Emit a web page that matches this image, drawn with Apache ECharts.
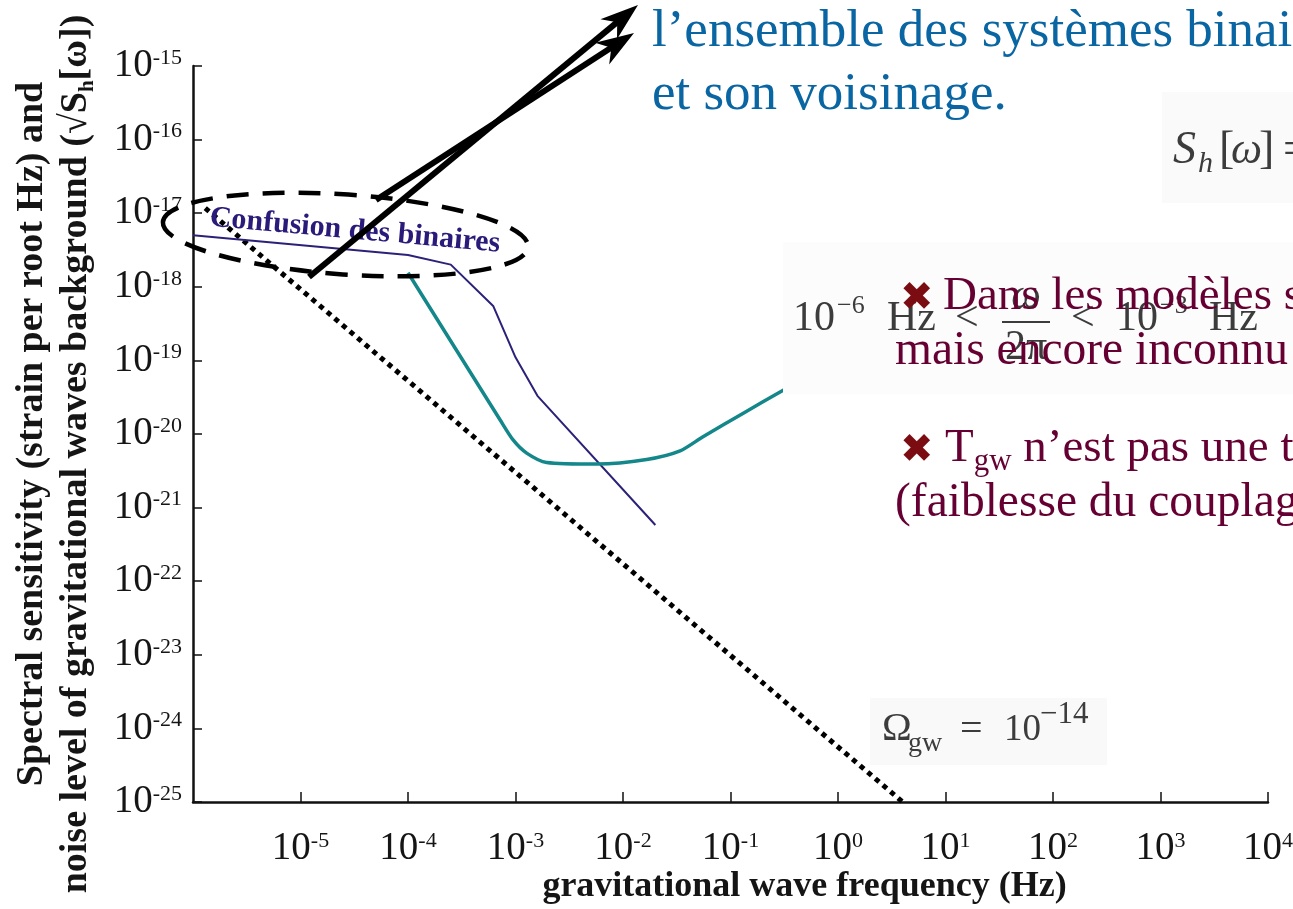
<!DOCTYPE html>
<html>
<head>
<meta charset="utf-8">
<script src="https://cdn.jsdelivr.net/npm/echarts@6/dist/echarts.min.js"></script>
<style>
html,body{margin:0;padding:0;background:#fff;}
#c{width:1293px;height:909px;}
</style>
</head>
<body>
<div id="c"></div>
<script>
// ---------------- data ----------------
// binary confusion noise curve (navy)
const confusionFreq = [1e-6, 1.0e-4, 2.5e-4, 6.2e-4, 1.0e-3, 1.6e-3, 2.0e-2];
const confusionAmp  = [5.0e-18, 2.7e-18, 2.0e-18, 5.5e-19, 1.1e-19, 3.3e-20, 5.8e-22];
// detector sensitivity curve (teal)
const sensFreq = [1.0e-4, 7.2e-4, 9.5e-4, 1.27e-3, 1.95e-3, 5.7e-3, 1.66e-2, 3.4e-2, 5.5e-2, 0.134, 0.315];
const sensAmp  = [1.55e-18, 1.55e-20, 8.3e-21, 5.5e-21, 4.1e-21, 3.9e-21, 4.5e-21, 5.9e-21, 9.1e-21, 1.95e-20, 4.0e-20];
// stochastic background level Omega_gw = 1e-14 (dotted)
const omegaFreq = [1.3e-6, 4.0];
const omegaAmp  = [1.17e-17, 1e-25];
// axes: decades (log10 exponents), one tick per decade
const xDecadeMin = -6, xDecadeMax = 4;
const yDecadeMin = -25, yDecadeMax = -15;
// texts
const yTitle1 = 'Spectral sensitivity (strain per root Hz) and';
const yTitle2 = 'noise level of gravitational waves background (√S{h|h}[ω]){sp| }';
const xTitle = 'gravitational wave frequency (Hz)';
const bubbleText = 'Confusion des binaires';
const blueLines = ['l’ensemble des systèmes binai', 'et son voisinage.'];
const bullet1 = ['Dans les modèles s', 'mais encore inconnu'];
const bullet2b = '(faiblesse du couplag';

// ---------------- helpers ----------------
const SERIF = '"Liberation Serif", "Times New Roman", serif';
function powLabel(e) {
  return '{b|10}{s|' + Math.round(e) + '}';
}
const tickRich = {
  b: {fontSize: 39, fontFamily: SERIF, color: '#151515', lineHeight: 38},
  s: {fontSize: 22, fontFamily: SERIF, color: '#151515', lineHeight: 14, verticalAlign: 'top'}
};
// log-log plot: values go through log10 onto decade axes
function pair(xs, ys) { return xs.map((x, i) => [Math.log10(x), Math.log10(ys[i])]); }

function arrow(x0, y0, x1, y1) {
  const dx = x1 - x0, dy = y1 - y0, L = Math.hypot(dx, dy);
  const ux = dx / L, uy = dy / L, px = -uy, py = ux;
  const hl = 38, hw = 13, notch = 11;
  const bx = x1 - ux * hl, by = y1 - uy * hl;
  const nx = x1 - ux * (hl - notch), ny = y1 - uy * (hl - notch);
  return [
    {type: 'line', z: 60, shape: {x1: x0, y1: y0, x2: nx + ux * 2, y2: ny + uy * 2},
     style: {stroke: '#000', lineWidth: 6}},
    {type: 'polygon', z: 60, shape: {points: [[x1, y1], [bx + px * hw, by + py * hw], [nx, ny], [bx - px * hw, by - py * hw]]},
     style: {fill: '#000'}}
  ];
}
function txt(text, x, y, opt) {
  return Object.assign({type: 'text', z: 80, x: x, y: y,
    style: Object.assign({text: text, fill: '#3a3a3a', fontFamily: SERIF, fontSize: 42,
      align: 'left', verticalAlign: 'middle'}, opt || {})});
}

// ---------------- annotations ----------------
const BLUE = '#0a66a3';
const MAROON = '#660033';
const XRED = '#7b0d12';
const FORM = '#3c3c3c';
const graphics = [];
// faint boxes behind the pasted formulas
graphics.push({type: 'rect', z: 5, shape: {x: 1162, y: 92, width: 131, height: 111}, style: {fill: '#fafafa'}});
graphics.push({type: 'rect', z: 5, shape: {x: 783, y: 242, width: 510, height: 152}, style: {fill: '#fcfcfc'}});
graphics.push({type: 'rect', z: 5, shape: {x: 870, y: 698, width: 237, height: 67}, style: {fill: '#f9f9f9'}});

// dashed ellipse
graphics.push({type: 'ellipse', z: 50, x: 345.5, y: 234.5, rotation: -0.068,
  shape: {cx: 0, cy: 0, rx: 183, ry: 40},
  style: {fill: 'none', stroke: '#000', lineWidth: 4.5, lineDash: [22, 14]}});
// bubble text
graphics.push({type: 'text', z: 55, x: 355, y: 231, rotation: -0.09,
  style: {text: bubbleText, fill: '#2a1b7a', fontFamily: SERIF, fontWeight: 'bold', fontSize: 30,
    align: 'center', verticalAlign: 'middle'}});
// arrows
arrow(309, 277, 638, 5).forEach(g => graphics.push(g));
arrow(376, 200, 634, 33).forEach(g => graphics.push(g));

// blue slide text
graphics.push(txt(blueLines[0], 652, 32, {fill: BLUE, fontSize: 53}));
graphics.push(txt(blueLines[1], 652, 95, {fill: BLUE, fontSize: 53}));

// S_h[w] =
graphics.push(txt('S', 1173, 151, {fill: FORM, fontSize: 46, fontStyle: 'italic'}));
graphics.push(txt('h', 1198, 164, {fill: FORM, fontSize: 30, fontStyle: 'italic'}));
graphics.push(txt('[', 1219, 151, {fill: FORM, fontSize: 46}));
graphics.push(txt('ω', 1231, 151, {fill: FORM, fontSize: 44, fontStyle: 'italic'}));
graphics.push(txt(']', 1259, 151, {fill: FORM, fontSize: 46}));
graphics.push(txt('=', 1283, 151, {fill: FORM, fontSize: 46}));

// 1e-6 Hz < w/2pi < 1e-3 Hz
graphics.push(txt('10', 793, 319, {fill: FORM}));
graphics.push(txt('−6', 837, 306, {fill: FORM, fontSize: 26}));
graphics.push(txt('Hz', 887, 319, {fill: FORM}));
graphics.push(txt('<', 955, 319, {fill: FORM}));
graphics.push({type: 'line', z: 80, shape: {x1: 1002, y1: 322, x2: 1050, y2: 322}, style: {stroke: FORM, lineWidth: 2}});
graphics.push(txt('ω', 1026, 297, {fill: FORM, fontStyle: 'italic', align: 'center'}));
graphics.push(txt('2π', 1026, 348, {fill: FORM, align: 'center'}));
graphics.push(txt('<', 1071, 319, {fill: FORM}));
graphics.push(txt('10', 1116, 319, {fill: FORM}));
graphics.push(txt('−3', 1160, 306, {fill: FORM, fontSize: 26}));
graphics.push(txt('Hz', 1209, 319, {fill: FORM}));

// Omega_gw = 1e-14
graphics.push(txt('Ω', 882, 729, {fill: FORM, fontSize: 40}));
graphics.push(txt('gw', 908, 744, {fill: FORM, fontSize: 28}));
graphics.push(txt('=', 960, 730, {fill: FORM, fontSize: 40}));
graphics.push(txt('10', 1004, 730, {fill: FORM, fontSize: 37}));
graphics.push(txt('−14', 1040, 715, {fill: FORM, fontSize: 31}));

// maroon bullets
graphics.push(txt('✖', 900, 300, {fill: XRED, fontFamily: '"DejaVu Sans"', fontSize: 40}));
graphics.push(txt(bullet1[0], 943, 297, {fill: MAROON, fontSize: 47}));
graphics.push(txt(bullet1[1], 895, 352, {fill: MAROON, fontSize: 47.5}));
graphics.push(txt('✖', 900, 452, {fill: XRED, fontFamily: '"DejaVu Sans"', fontSize: 40}));
graphics.push(txt('{m|T}{sub|gw}{m| n’est pas une t}', 945, 449, {fill: MAROON, fontSize: 47,
  rich: {m: {fontSize: 47, fontFamily: SERIF, fill: MAROON, lineHeight: 56},
         sub: {fontSize: 31, fontFamily: SERIF, fill: MAROON, lineHeight: 15, verticalAlign: 'bottom'}}}));
graphics.push(txt(bullet2b, 895, 504, {fill: MAROON, fontSize: 47.5}));

// ---------------- chart ----------------
const chart = echarts.init(document.getElementById('c'), null, {renderer: 'canvas'});
const option = {
  animation: false,
  backgroundColor: '#ffffff',
  grid: {left: 193, right: 25, top: 66, bottom: 107, containLabel: false, outerBoundsMode: 'none'},
  xAxis: {
    type: 'value', min: xDecadeMin, max: xDecadeMax, interval: 1,
    name: xTitle, nameLocation: 'middle', nameGap: 67, nameMoveOverlap: false,
    nameTextStyle: {fontFamily: SERIF, fontWeight: 'bold', fontSize: 36, color: '#151515', padding: [0, 0, 0, 148]},
    axisLine: {show: true, onZero: false, lineStyle: {color: '#111', width: 2.5}},
    axisTick: {show: true, inside: true, length: 10, lineStyle: {color: '#111', width: 1.5}},
    minorTick: {show: false},
    splitLine: {show: false},
    axisLabel: {show: true, margin: 28, showMinLabel: false, showMaxLabel: true, hideOverlap: false,
      formatter: powLabel, rich: tickRich}
  },
  yAxis: {
    type: 'value', min: yDecadeMin, max: yDecadeMax, interval: 1,
    name: yTitle1 + '\n' + yTitle2, nameLocation: 'middle', nameRotate: 90, nameGap: 95, nameMoveOverlap: false,
    nameTextStyle: {fontFamily: SERIF, fontWeight: 'bold', fontSize: 38, color: '#151515', lineHeight: 44,
      rich: {h: {fontFamily: SERIF, fontWeight: 'bold', fontSize: 21, color: '#151515', lineHeight: 22, verticalAlign: 'bottom'},
             sp: {fontSize: 38, width: 40, lineHeight: 44}}},
    axisLine: {show: true, onZero: false, lineStyle: {color: '#111', width: 2.5}},
    axisTick: {show: true, inside: true, length: 9, lineStyle: {color: '#111', width: 1.5}},
    minorTick: {show: false},
    splitLine: {show: false},
    axisLabel: {show: true, margin: 11, showMinLabel: true, showMaxLabel: true, hideOverlap: false,
      formatter: powLabel, rich: tickRich}
  },
  series: [
    {type: 'line', name: 'Omega', data: pair(omegaFreq, omegaAmp), symbol: 'none', z: 3,
     lineStyle: {color: '#000', width: 5, type: [5, 5], cap: 'butt'}},
    {type: 'line', name: 'confusion', data: pair(confusionFreq, confusionAmp), symbol: 'none', z: 4,
     lineStyle: {color: '#2b2178', width: 2}},
    {type: 'line', name: 'sensitivity', data: pair(sensFreq, sensAmp), symbol: 'none', smooth: 0.25, z: 4,
     lineStyle: {color: '#14878a', width: 3.5}}
  ],
  graphic: {elements: graphics}
};
chart.setOption(option);
</script>
</body>
</html>
